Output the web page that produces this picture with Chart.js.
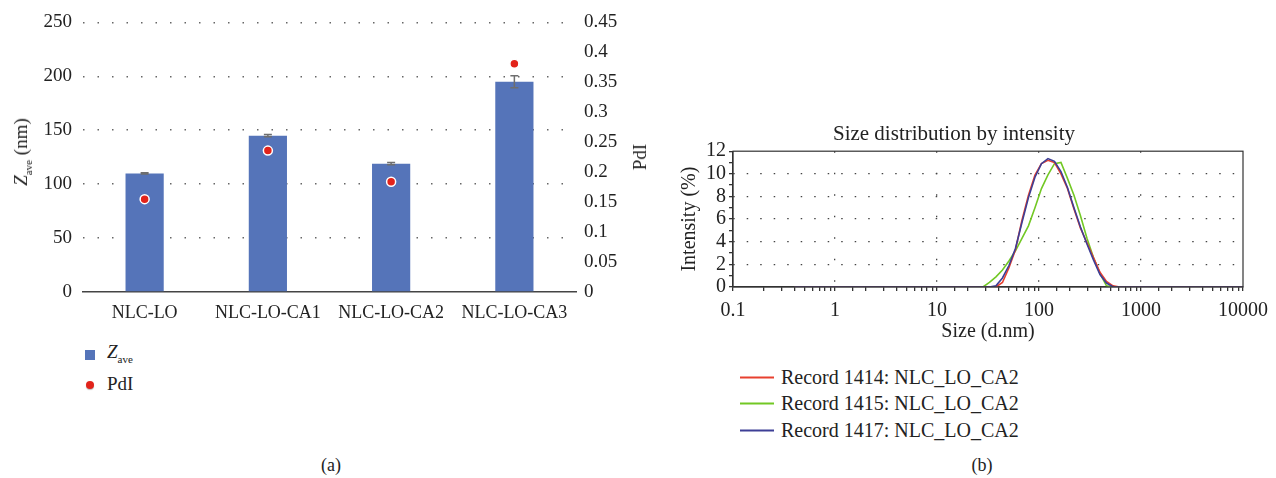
<!DOCTYPE html>
<html lang="en">
<head>
  <meta charset="UTF-8" />
  <title>Zave / PdI and size distribution</title>
  <script src="https://cdn.jsdelivr.net/npm/chart.js"></script>
  <style>
    body { margin: 0; background: #fff; font-family: 'Liberation Serif', serif; color: #222; }
    #wrap { position: relative; width: 1276px; height: 478px; overflow: hidden; }
    .abs { position: absolute; white-space: nowrap; }
    .rot { transform: translate(-50%, -50%) rotate(-90deg); }
    .ctr { transform: translate(-50%, -50%); }
    sub { font-size: 11px; vertical-align: -5px; }
    .leg { position: absolute; white-space: nowrap; font-size: 20px; transform: translateY(-50%); }
    .leg span.line { display: inline-block; width: 34px; height: 2px; vertical-align: middle; margin-right: 7px; position: relative; top: -1px; }
  </style>
</head>
<body>
<div id="wrap">
  <canvas id="zaveChart" class="abs" style="left:0;top:0" width="660" height="320"></canvas>
  <canvas id="sizeChart" class="abs" style="left:660px;top:0" width="616" height="345"></canvas>

  <!-- titres (a) -->
  <div class="abs rot" style="left:22px;top:152px;font-size:19px"><i>Z</i><sub>ave</sub> (nm)</div>
  <div class="abs rot" style="left:640px;top:157px;font-size:19px">PdI</div>

  <!-- légende (a) -->
  <div class="abs" style="left:85px;top:350px;width:10px;height:10px;background:#5574b9"></div>
  <div class="abs" style="left:107px;top:341px;font-size:19px"><i>Z</i><sub>ave</sub></div>
  <div class="abs" style="left:86px;top:381px;width:8px;height:8px;border-radius:50%;background:#e2231a;box-shadow:0 1px 1px #bbb"></div>
  <div class="abs" style="left:107px;top:373px;font-size:19px">PdI</div>

  <!-- légende (b) -->
  <div class="leg" style="left:740px;top:377px"><span class="line" style="background:#e8402f"></span>Record 1414: NLC_LO_CA2</div>
  <div class="leg" style="left:740px;top:403px"><span class="line" style="background:#72c824"></span>Record 1415: NLC_LO_CA2</div>
  <div class="leg" style="left:740px;top:430px"><span class="line" style="background:#3d3f96"></span>Record 1417: NLC_LO_CA2</div>

  <div class="abs ctr" style="left:331px;top:465px;font-size:18px">(a)</div>
  <div class="abs ctr" style="left:982px;top:465px;font-size:18px">(b)</div>
</div>

<script>
  // (a) Zave + PdI
  const categories = ['NLC-LO', 'NLC-LO-CA1', 'NLC-LO-CA2', 'NLC-LO-CA3'];
  const zave = [110, 145, 119, 195];
  const zaveErr = [0.5, 1, 1, 5.5];
  const pdi = [0.155, 0.236, 0.184, 0.381];

  // (b) size distribution
  const sizes = [0.4, 24.36, 28.21, 32.67, 37.84, 43.82, 50.75, 58.77, 68.06, 78.82, 91.28, 105.7, 122.4,
                 141.8, 164.2, 190.1, 220.2, 255.0, 295.3, 342.0, 396.1, 458.7, 531.2, 615.1, 712.4, 10000];
  const rec1414 = [0, 0, 0, 0, 0, 0.4, 1.7, 3.3, 5.9, 8.1, 9.9, 10.9, 11.2,
                   11.0, 10.0, 8.7, 6.9, 5.2, 3.9, 2.6, 1.3, 0.5, 0.1, 0, 0, 0];
  const rec1415 = [0, 0, 0, 0.4, 0.9, 1.5, 2.3, 3.2, 4.3, 5.4, 7.0, 8.7, 9.9,
                   10.9, 11.0, 9.6, 8.1, 6.3, 4.3, 2.6, 1.2, 0.1, 0, 0, 0, 0];
  const rec1417 = [0, 0, 0, 0, 0.1, 0.8, 1.9, 3.4, 5.7, 7.9, 9.7, 10.9, 11.35,
                   11.1, 10.2, 8.8, 7.0, 5.3, 3.8, 2.4, 1.1, 0.35, 0.02, 0, 0, 0];
  const sizeTickLabels = ['0.1', '1', '10', '100', '1000', '10000'];

  const SERIF = "'Liberation Serif', serif";
  Chart.defaults.font.family = SERIF;
  Chart.defaults.color = '#222';

  const errorBars = {
    id: 'errorBars',
    afterDatasetDraw(chart, args) {
      if (args.index !== 0) return;
      const ctx = chart.ctx;
      const y = chart.scales.y;
      ctx.save();
      ctx.strokeStyle = '#6e6e6e';
      ctx.lineWidth = 1.5;
      args.meta.data.forEach((bar, i) => {
        const top = y.getPixelForValue(zave[i] + zaveErr[i]);
        const bot = y.getPixelForValue(zave[i] - zaveErr[i]);
        ctx.beginPath();
        ctx.moveTo(bar.x, top); ctx.lineTo(bar.x, bot);
        ctx.moveTo(bar.x - 4, top); ctx.lineTo(bar.x + 4, top);
        ctx.moveTo(bar.x - 4, bot); ctx.lineTo(bar.x + 4, bot);
        ctx.stroke();
      });
      ctx.restore();
    }
  };

  new Chart(document.getElementById('zaveChart'), {
    type: 'bar',
    data: {
      labels: categories,
      datasets: [{
        type: 'bar',
        label: 'Zave',
        data: zave,
        backgroundColor: '#5574b9',
        barPercentage: 0.31,
        categoryPercentage: 1,
        yAxisID: 'y',
        order: 2
      }, {
        type: 'line',
        label: 'PdI',
        data: pdi,
        showLine: false,
        pointRadius: 4.5,
        pointBackgroundColor: '#e2231a',
        pointBorderColor: '#fff',
        pointBorderWidth: 1.5,
        yAxisID: 'y2',
        order: 1
      }]
    },
    options: {
      responsive: false,
      animation: false,
      layout: { padding: { top: 22, left: 0, right: 0, bottom: 0 } },
      plugins: { legend: { display: false }, tooltip: { enabled: false } },
      scales: {
        x: {
          grid: { display: false, drawTicks: false },
          border: { color: '#444', width: 1.5 },
          ticks: { font: { size: 18 }, padding: 10, maxRotation: 0, autoSkip: false },
          afterFit(s) { s.height = 28; }
        },
        y: {
          min: 0, max: 250,
          ticks: { stepSize: 50, font: { size: 19 }, padding: 11 },
          grid: { color: c => c.tick && c.tick.value === 0 ? 'transparent' : '#666', lineWidth: 1.5, drawTicks: false },
          border: { display: false, dash: [1.5, 13] },
          afterFit(s) { s.width = 83; }
        },
        y2: {
          position: 'right',
          min: 0, max: 0.45,
          ticks: { stepSize: 0.05, font: { size: 19 }, padding: 8, autoSkip: false,
                   callback: v => String(+v.toFixed(2)) },
          grid: { drawOnChartArea: false, drawTicks: false },
          border: { display: false },
          afterFit(s) { s.width = 84; }
        }
      }
    },
    plugins: [errorBars]
  });

  const isDecade = v => Math.abs(Math.log10(v) - Math.round(Math.log10(v))) < 1e-6;

  const plotBox = {
    id: 'plotBox',
    afterDraw(chart) {
      const { ctx, chartArea: a } = chart;
      ctx.save();
      ctx.strokeStyle = '#333';
      ctx.lineWidth = 1.2;
      ctx.strokeRect(a.left, a.top, a.right - a.left, a.bottom - a.top);
      ctx.restore();
    }
  };

  const series = (label, values, color, order) => ({
    label: label,
    data: sizes.map((s, i) => ({ x: s, y: values[i] })),
    borderColor: color,
    borderWidth: 1.6,
    pointRadius: 0,
    tension: 0,
    fill: false,
    order: order
  });

  new Chart(document.getElementById('sizeChart'), {
    type: 'line',
    data: {
      datasets: [
        series('Record 1414: NLC_LO_CA2', rec1414, '#e8402f', 2),
        series('Record 1415: NLC_LO_CA2', rec1415, '#72c824', 3),
        series('Record 1417: NLC_LO_CA2', rec1417, '#3d3f96', 1)
      ]
    },
    options: {
      responsive: false,
      animation: false,
      layout: { padding: { top: 0, left: 0, right: 28, bottom: 0 } },
      plugins: {
        legend: { display: false },
        tooltip: { enabled: false },
        title: {
          display: true,
          text: 'Size distribution by intensity',
          font: { size: 21, weight: 'normal' },
          color: '#222',
          padding: { top: 122, bottom: 4 }
        }
      },
      scales: {
        x: {
          type: 'logarithmic',
          min: 0.1, max: 10000,
          ticks: {
            font: { size: 20 }, padding: 8, maxRotation: 0, autoSkip: false,
            callback: v => isDecade(v) ? sizeTickLabels[Math.round(Math.log10(v)) + 1] : ''
          },
          grid: {
            color: c => c.tick && isDecade(c.tick.value) && c.tick.value > 0.1 && c.tick.value < 10000 ? '#444' : 'transparent',
            lineWidth: 1.3,
            tickColor: '#333',
            tickLength: 4
          },
          border: { color: '#333', width: 1.2, dash: [1.5, 20] },
          title: { display: true, text: 'Size (d.nm)', font: { size: 20 }, padding: { top: 0, bottom: 1 } },
          afterFit(s) { s.height = 58; }
        },
        y: {
          min: 0, max: 12,
          ticks: { stepSize: 1, autoSkip: false, font: { size: 20 }, padding: 3,
                   callback: v => v % 2 === 0 ? v : '' },
          grid: {
            color: c => c.tick && c.tick.value % 2 === 0 && c.tick.value > 0 && c.tick.value < 12 ? '#444' : 'transparent',
            lineWidth: 1.3,
            tickColor: '#333',
            tickLength: 4
          },
          border: { color: '#333', width: 1.2, dash: [1.5, 12] },
          title: { display: true, text: 'Intensity (%)', font: { size: 20 }, padding: { top: 18, bottom: 0 } },
          afterFit(s) { s.width = 73; }
        }
      }
    },
    plugins: [plotBox]
  });
</script>
</body>
</html>
